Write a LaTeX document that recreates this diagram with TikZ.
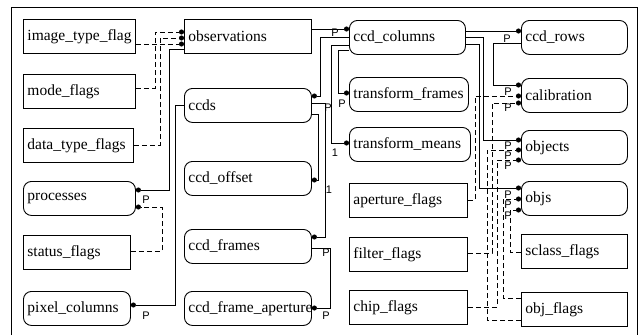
\documentclass[tikz,border=0pt]{standalone}
\usepackage{fontspec}
\setmainfont{Liberation Serif}
\newfontfamily\entfont{Liberation Serif}
\newfontfamily\cardfont{Liberation Sans}
\usetikzlibrary{arrows.meta}
\tikzstyle{entity} = [draw, line width=0.9pt, anchor=north west, minimum height=34pt, inner xsep=4pt, align=left, font=\entfont\fontsize{15.5}{17}\selectfont]
\tikzstyle{entityr} = [entity, rounded corners=8pt]
\tikzstyle{idrel} = [line width=0.8pt, -{Circle[length=5pt]}]
\tikzstyle{nonid} = [idrel, dash pattern=on 5pt off 3pt]
\tikzstyle{card} = [font=\cardfont\fontsize{11}{11}\selectfont, inner sep=0pt]

\begin{document}
\begin{tikzpicture}[x=1pt, y=-1pt]
\useasboundingbox[fill=white] (0,0) rectangle (639,335);
\draw[line width=0.9pt] (11,335) -- (11,7) -- (637,7) -- (637,335);

% first column
\node[entity, text width=104pt] (itf) at (23,19) {image\_type\_flag};
\node[entity, text width=104pt] (mode) at (23,74) {mode\_flags};
\node[entity, text width=102pt] (dtf) at (23,128) {data\_type\_flags};
\node[entityr, text width=104pt] (proc) at (23,181) {processes};
\node[entity, text width=99pt] (stat) at (23,235) {status\_flags};
\node[entityr, text width=99pt] (pix) at (23,291) {pixel\_columns};

% second column
\node[entity, text width=119pt] (obs) at (184,19) {observations};
\node[entityr, text width=119pt] (ccds) at (184,88) {ccds};
\node[entityr, text width=119pt] (off) at (184,161) {ccd\_offset};
\node[entityr, text width=119pt] (frm) at (184,229) {ccd\_frames};
\node[entityr, text width=119pt] (fap) at (184,291) {ccd\_frame\_aperture};

% third column
\node[entityr, text width=108pt] (ccol) at (349,20) {ccd\_columns};
\node[entityr, text width=111pt] (tfr) at (349,77) {transform\_frames};
\node[entityr, text width=113pt] (tme) at (349,127) {transform\_means};
\node[entity, text width=110pt] (apf) at (349,183) {aperture\_flags};
\node[entity, text width=110pt] (fil) at (349,237) {filter\_flags};
\node[entity, text width=110pt] (chp) at (349,290) {chip\_flags};

% fourth column
\node[entityr, text width=98pt] (crow) at (521,20) {ccd\_rows};
\node[entityr, text width=98pt] (cal) at (521,78) {calibration};
\node[entityr, text width=98pt] (objc) at (521,130) {objects};
\node[entityr, text width=98pt] (objs) at (521,181) {objs};
\node[entity, text width=98pt] (scl) at (521,234) {sclass\_flags};
\node[entity, text width=98pt] (ofl) at (521,292) {obj\_flags};

% flags into observations
\draw[nonid] (itf.east |- 0,44) -- (obs.west |- 0,44);
\draw[nonid] (mode.east |- 0,88) -| (155,32) -- (obs.west |- 0,32);
\draw[nonid] (dtf.east |- 0,145) -| (160,38) -- (obs.west |- 0,38);

% left side
\draw[idrel] (obs.west |- 0,49) -| (169,190) -- (proc.east |- 0,190);
\draw[nonid] (stat.east |- 0,251) -| (162,207) -- (proc.east |- 0,207);
\draw[idrel] (ccds.west |- 0,105) -| (175,305) -- (pix.east |- 0,305);
\node[card] (p1) at (146,200) {P};
\node[card] (p2) at (146,316) {P};

% middle
\draw[idrel] (obs.east |- 0,29) -- (ccol.west |- 0,29);
\draw[idrel] (ccol.west |- 0,37) -| (320,96) -- (ccds.east |- 0,96);
\draw[idrel] (ccds.east |- 0,114) -| (318,180) -- (off.east |- 0,180);
\draw[idrel] (ccds.east |- 0,103) -| (325,237) -- (frm.east |- 0,237);
\draw[idrel] (frm.east |- 0,248) -| (330,308) -- (fap.east |- 0,308);
\draw[idrel] (ccol.west |- 0,50) -| (338,93) -- (tfr.west |- 0,93);
\draw[idrel] (ccol.west |- 0,45) -| (331,143) -- (tme.west |- 0,143);
\node[card] (p3) at (335,33) {P};
\node[card] (p4) at (328,108) {P};
\node[card] (p5) at (342,104) {P};
\node[card] (n1) at (329,190) {1};
\node[card] (n2) at (335,153) {1};
\node[card] (p6) at (326,253) {P};
\node[card] (p7) at (326,316) {P};

% right side
\draw[idrel] (ccol.east |- 0,31) -- (crow.west |- 0,31);
\draw[idrel] (crow.west |- 0,43) -| (493,85) -- (cal.west |- 0,85);
\draw[idrel] (ccol.east |- 0,37) -| (483,140) -- (objc.west |- 0,140);
\draw[idrel] (ccol.east |- 0,44) -| (479,188) -- (objs.west |- 0,188);
\draw[nonid] (apf.east |- 0,200) -| (475,96) -- (cal.west |- 0,96);
\draw[nonid] (fil.east |- 0,253) -| (492,103) -- (cal.west |- 0,103);
\draw[nonid] (ofl.west |- 0,320) -| (487,150) -- (objc.west |- 0,150);
\draw[nonid] (chp.east |- 0,307) -| (497,160) -- (objc.west |- 0,160);
\draw[nonid] (ofl.west |- 0,298) -| (503,199) -- (objs.west |- 0,199);
\draw[nonid] (scl.west |- 0,252) -| (510,210) -- (objs.west |- 0,210);
\node[card] (p8) at (507,39) {P};
\node[card] (p9) at (508,92) {P};
\node[card] (p10) at (508,108) {P};
\node[card] (p11) at (508,146) {P};
\node[card] (p12) at (508,156) {P};
\node[card] (p13) at (508,166) {P};
\node[card] (p14) at (508,195) {P};
\node[card] (p15) at (508,205) {P};
\node[card] (p16) at (508,216) {P};
\end{tikzpicture}
\end{document}
